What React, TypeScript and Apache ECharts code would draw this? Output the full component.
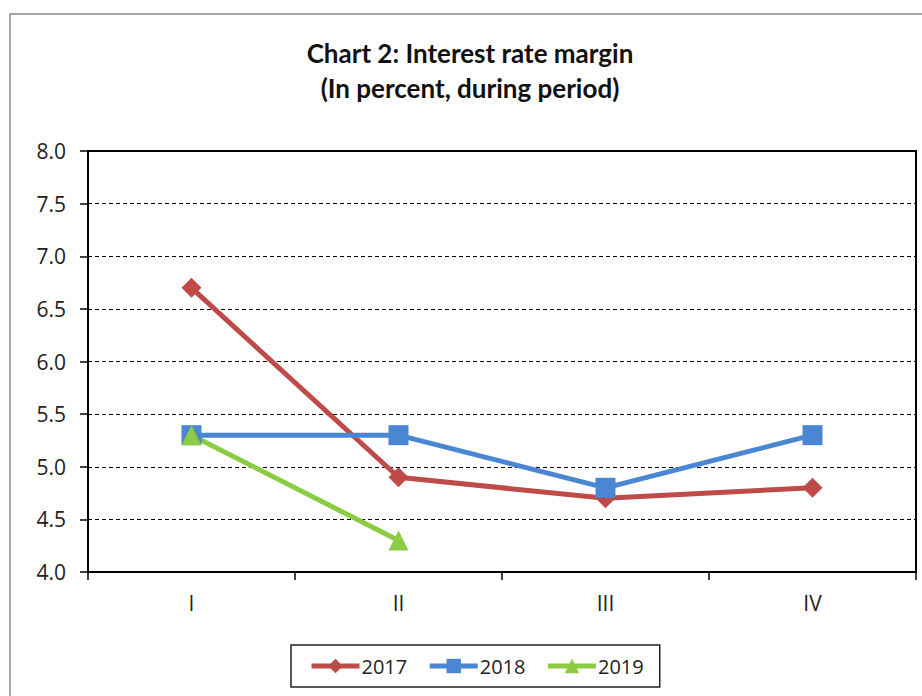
import React, { useEffect, useRef } from "react";
import * as echarts from "echarts";

const categories = ["I", "II", "III", "IV"];
const s2017 = [6.7, 4.9, 4.7, 4.8];
const s2018 = [5.3, 5.3, 4.8, 5.3];
const s2019 = [5.3, 4.3, null, null];
const yTicks = { min: 4, max: 8, interval: 0.5 };

const FONT = "'Open Sans', 'Noto Sans', sans-serif";
const TFONT = "Lato, 'Open Sans', sans-serif";

export default function App() {
  const ref = useRef<HTMLDivElement>(null);
  useEffect(() => {
    if (!ref.current) return;
    const chart = echarts.init(ref.current, null, { renderer: "svg" });
    const mk = (name: string, data: (number | null)[], color: string, symbol: string, size: number) => ({
      name,
      type: "line",
      data,
      symbol,
      symbolSize: size,
      showAllSymbol: true,
      connectNulls: false,
      lineStyle: { color, width: 5 },
      itemStyle: { color },
    });
    chart.setOption({
      animation: false,
      backgroundColor: "#fff",
      graphic: [
        {
          type: "rect",
          shape: { x: 10, y: 14, width: 930, height: 700 },
          style: { fill: "none", stroke: "#888", lineWidth: 1.5 },
          silent: true,
        },
        {
          type: "text",
          x: 470,
          y: 53,
          style: {
            text: "Chart 2: Interest rate margin",
            font: `bold 26px ${TFONT}`,
            fill: "#111",
            textAlign: "center",
            textVerticalAlign: "middle",
          },
          silent: true,
        },
        {
          type: "text",
          x: 470,
          y: 88,
          style: {
            text: "(In percent, during period)",
            font: `bold 26px ${TFONT}`,
            fill: "#111",
            textAlign: "center",
            textVerticalAlign: "middle",
          },
          silent: true,
        },
      ],
      grid: {
        left: 88,
        top: 151,
        right: 6,
        bottom: 124,
        show: true,
        borderColor: "#000",
        borderWidth: 2,
        containLabel: false,
      },
      xAxis: {
        type: "category",
        data: categories,
        boundaryGap: true,
        axisLine: { lineStyle: { color: "#000", width: 2 } },
        axisTick: { show: true, length: 8, inside: false, lineStyle: { color: "#000", width: 1.5 } },
        axisLabel: { fontFamily: FONT, fontSize: 21, color: "#222", margin: 20 },
        splitLine: { show: false },
      },
      yAxis: {
        type: "value",
        min: yTicks.min,
        max: yTicks.max,
        interval: yTicks.interval,
        axisLine: { show: true, lineStyle: { color: "#000", width: 2 } },
        axisTick: { show: true, length: 8, inside: false, lineStyle: { color: "#000", width: 1.5 } },
        axisLabel: {
          fontFamily: FONT,
          fontSize: 21,
          color: "#222",
          margin: 22,
          formatter: (v: number) => v.toFixed(1),
        },
        splitLine: { show: true, lineStyle: { color: "#000", type: [4, 3], width: 1 } },
      },
      legend: {
        top: 645,
        left: 291,
        itemWidth: 48,
        itemHeight: 18,
        itemGap: 20,
        padding: [11, 16, 11, 18],
        borderColor: "#222",
        borderWidth: 1.5,
        lineStyle: { width: 5 },
        textStyle: { fontFamily: FONT, fontSize: 20, color: "#222", padding: [0, 0, 0, -3] },
        data: ["2017", "2018", "2019"],
      },
      series: [
        mk("2017", s2017, "#BE4B48", "diamond", 20),
        mk("2018", s2018, "#4A86D4", "rect", 20),
        mk("2019", s2019, "#8DCB45", "triangle", 20),
      ],
    });
    return () => chart.dispose();
  }, []);
  return (
    <div
      ref={ref}
      style={{ position: "fixed", left: 0, top: 0, width: 922, height: 696 }}
    />
  );
}
